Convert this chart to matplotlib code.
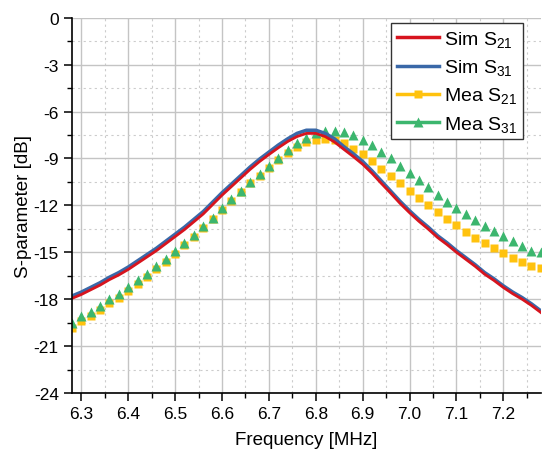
import matplotlib
matplotlib.use("Agg")
import matplotlib.pyplot as plt
import numpy as np
from matplotlib.lines import Line2D
from matplotlib.ticker import MultipleLocator, FormatStrFormatter

plt.rcParams['font.family'] = ['Liberation Sans', 'DejaVu Sans']
plt.rcParams['mathtext.default'] = 'regular'
plt.rcParams['axes.unicode_minus'] = False

# frequency axis (MHz), step 0.02
freq = [6.28, 6.30, 6.32, 6.34, 6.36, 6.38, 6.40, 6.42, 6.44, 6.46,
        6.48, 6.50, 6.52, 6.54, 6.56, 6.58, 6.60, 6.62, 6.64, 6.66,
        6.68, 6.70, 6.72, 6.74, 6.76, 6.78, 6.80, 6.82, 6.84, 6.86,
        6.88, 6.90, 6.92, 6.94, 6.96, 6.98, 7.00, 7.02, 7.04, 7.06,
        7.08, 7.10, 7.12, 7.14, 7.16, 7.18, 7.20, 7.22, 7.24, 7.26, 7.28]

# simulated S31 (dB)
sim_s31 = [-17.8, -17.55, -17.25, -16.95, -16.6, -16.3, -15.95, -15.55, -15.15, -14.75,
           -14.3, -13.85, -13.4, -12.9, -12.4, -11.8, -11.2, -10.65, -10.1, -9.55,
           -9.05, -8.6, -8.15, -7.75, -7.4, -7.2, -7.2, -7.4, -7.75, -8.25,
           -8.7, -9.2, -9.8, -10.45, -11.1, -11.75, -12.35, -12.9, -13.4, -13.95,
           -14.4, -14.9, -15.35, -15.8, -16.3, -16.7, -17.15, -17.55, -17.9, -18.3, -18.75]

# simulated S21 (dB)
sim_s21 = [-17.95, -17.7, -17.4, -17.1, -16.75, -16.45, -16.1, -15.7, -15.3, -14.9,
           -14.45, -14.0, -13.55, -13.05, -12.55, -11.95, -11.35, -10.8, -10.25, -9.7,
           -9.2, -8.75, -8.32, -7.92, -7.6, -7.4, -7.4, -7.6, -7.95, -8.42,
           -8.88, -9.37, -9.95, -10.6, -11.23, -11.88, -12.47, -13.02, -13.52, -14.06,
           -14.51, -15.0, -15.45, -15.9, -16.4, -16.8, -17.25, -17.65, -18.0, -18.4, -18.85]

# measured S21 (dB)
mea_s21 = [-19.85, -19.4, -19.1, -18.7, -18.25, -17.9, -17.45, -17.0, -16.6, -16.1,
           -15.6, -15.1, -14.55, -14.0, -13.45, -12.9, -12.3, -11.7, -11.15, -10.6,
           -10.1, -9.6, -9.1, -8.65, -8.25, -7.95, -7.85, -7.75, -7.85, -8.03,
           -8.37, -8.73, -9.16, -9.65, -10.12, -10.59, -11.08, -11.5, -12.0, -12.42,
           -12.85, -13.28, -13.7, -14.06, -14.38, -14.7, -15.02, -15.34, -15.62, -15.88, -16.03]

# measured S31 (dB)
mea_s31 = [-19.55, -19.1, -18.8, -18.45, -18.0, -17.65, -17.2, -16.75, -16.4, -15.9,
           -15.4, -14.9, -14.4, -13.9, -13.35, -12.8, -12.2, -11.6, -11.1, -10.5,
           -10.0, -9.5, -8.95, -8.45, -8.0, -7.7, -7.4, -7.25, -7.25, -7.33,
           -7.5, -7.8, -8.15, -8.6, -9.0, -9.5, -9.9, -10.4, -10.85, -11.35,
           -11.8, -12.2, -12.55, -12.95, -13.3, -13.65, -13.95, -14.3, -14.6, -14.9, -15.0]

c_red = '#d7141e'
c_blue = '#3a68a8'
c_yel = '#ffc20e'
c_grn = '#3cb66e'

fig = plt.figure(figsize=(5.42, 4.56), dpi=100)
ax = fig.add_axes([0.1328, 0.136, 0.865, 0.823])

ax.plot(freq, mea_s21, 's', color=c_yel, ms=5.4, mec='none')
ax.plot(freq, mea_s31, '^', color=c_grn, ms=7.0, mec='none')
ax.plot(freq, sim_s31, '-', color=c_blue, lw=2.6)
ax.plot(freq, sim_s21, '-', color=c_red, lw=2.0)

ax.set_xlim(6.28, 7.28)
ax.set_ylim(-24, 0)
ax.xaxis.set_major_locator(MultipleLocator(0.1))
ax.xaxis.set_minor_locator(MultipleLocator(0.05))
ax.yaxis.set_major_locator(MultipleLocator(3))
ax.yaxis.set_minor_locator(MultipleLocator(1.5))
ax.xaxis.set_major_formatter(FormatStrFormatter('%.1f'))

ax.grid(which='major', color='#c4c4c4', lw=1.0, ls='-')
ax.grid(which='minor', color='#cccccc', lw=0.8, ls=(0, (2, 3)))
ax.set_axisbelow(True)

for s in ['top', 'right']:
    ax.spines[s].set_visible(False)
for s in ['left', 'bottom']:
    ax.spines[s].set_linewidth(1.2)

ax.tick_params(which='major', direction='out', length=6, width=1.1, labelsize=12.5)
ax.tick_params(which='minor', direction='out', length=3.5, width=1.0)

ax.set_xlabel('Frequency [MHz]', fontsize=13.5, labelpad=7)
ax.set_ylabel('S-parameter [dB]', fontsize=13.5, labelpad=1)

handles = [
    Line2D([], [], color=c_red, lw=2.5),
    Line2D([], [], color=c_blue, lw=2.5),
    Line2D([], [], color=c_yel, lw=2.5, marker='s', ms=6, mec='none'),
    Line2D([], [], color=c_grn, lw=2.5, marker='^', ms=7, mec='none'),
]
labels = ['Sim S$_{21}$', 'Sim S$_{31}$', 'Mea S$_{21}$', 'Mea S$_{31}$']
leg = ax.legend(handles, labels, loc='upper right', bbox_to_anchor=(0.962, 0.985),
                borderaxespad=0, fontsize=14, handlelength=2.2, handletextpad=0.25,
                labelspacing=0.42, borderpad=0.3, fancybox=False, framealpha=1,
                edgecolor='#333333')
leg.get_frame().set_linewidth(1.0)

fig.savefig('out.png', dpi=100)
